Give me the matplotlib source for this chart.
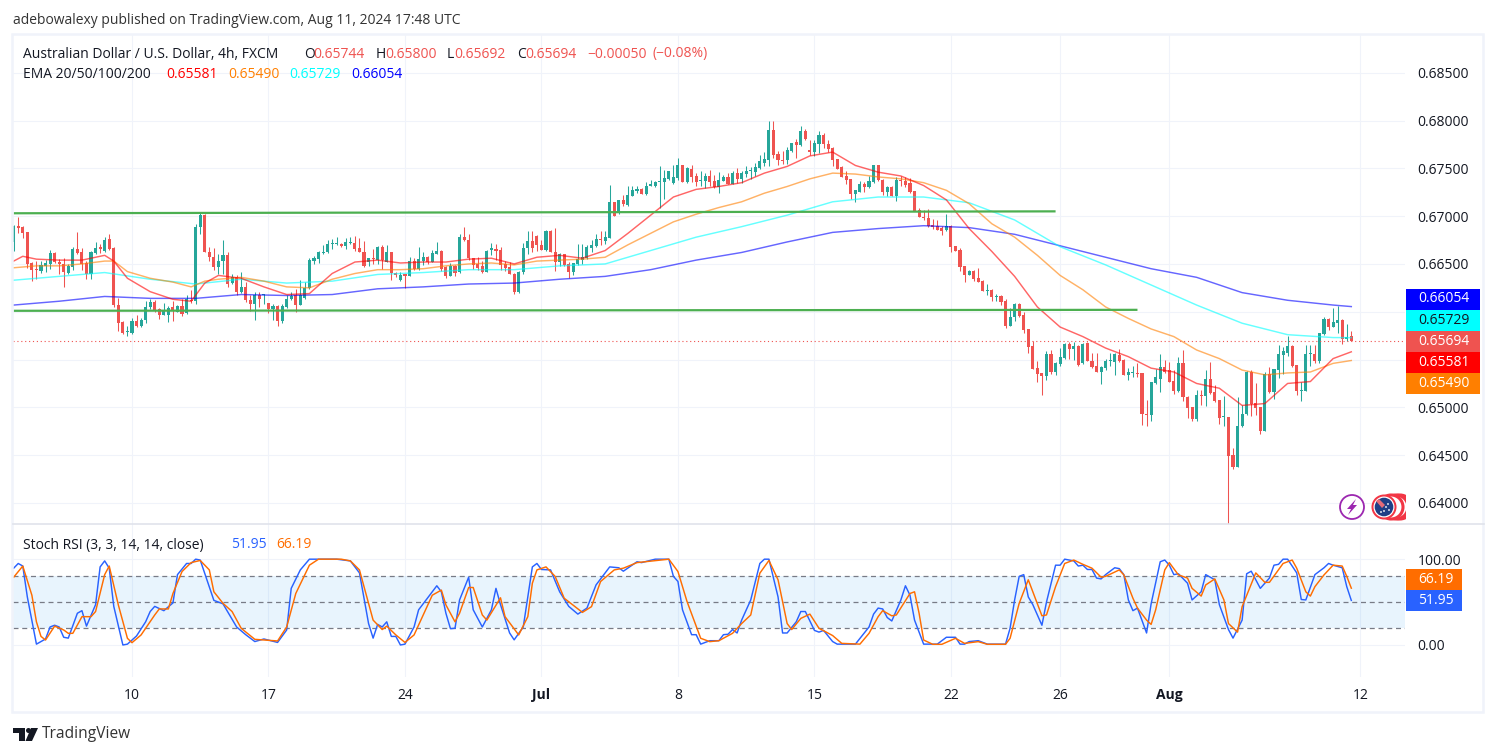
import numpy as np
import matplotlib
matplotlib.use("Agg")
import matplotlib.pyplot as plt
from matplotlib.patches import Rectangle, Circle, Polygon

plt.rcParams["font.family"] = ["Open Sans", "DejaVu Sans"]

# candles, price x 10000, one entry per 4h bar
opens = [6673,6689,6689,6683,6651,6645,6643,6648,6650,6661,
    6652,6650,6641,6647,6666,6662,6651,6639,6661,6667,
    6664,6676,6667,6607,6589,6579,6578,6590,6585,6591,
    6605,6610,6603,6597,6597,6605,6600,6606,6599,6612,
    6611,6689,6701,6663,6657,6647,6653,6659,6630,6636,
    6621,6626,6612,6608,6617,6617,6609,6603,6606,6590,
    6605,6613,6618,6607,6614,6625,6653,6655,6661,6662,
    6671,6671,6671,6669,6672,6672,6667,6663,6652,6656,
    6654,6668,6652,6662,6641,6633,6639,6637,6653,6645,
    6653,6657,6652,6660,6664,6647,6637,6648,6642,6678,
    6675,6656,6650,6648,6642,6665,6665,6665,6650,6647,
    6640,6621,6642,6667,6674,6679,6670,6665,6684,6663,
    6652,6660,6650,6642,6650,6654,6656,6667,6669,6676,
    6674,6677,6715,6703,6717,6712,6721,6726,6728,6723,
    6732,6732,6736,6736,6739,6735,6740,6753,6736,6749,
    6742,6737,6737,6742,6737,6730,6737,6741,6734,6745,
    6739,6744,6747,6746,6750,6756,6759,6790,6765,6759,
    6759,6768,6778,6774,6789,6769,6767,6775,6785,6775,
    6771,6760,6751,6742,6739,6723,6725,6734,6730,6736,
    6753,6738,6725,6730,6721,6738,6737,6735,6726,6706,
    6699,6698,6691,6690,6688,6686,6690,6669,6665,6648,
    6638,6643,6635,6632,6622,6623,6615,6616,6611,6585,
    6595,6608,6597,6582,6564,6541,6536,6533,6556,6537,
    6545,6552,6566,6561,6564,6546,6567,6549,6543,6537,
    6541,6548,6547,6555,6550,6534,6536,6536,6536,6493,
    6492,6525,6530,6542,6539,6528,6517,6546,6511,6500,
    6488,6513,6512,6530,6516,6508,6490,6490,6450,6438,
    6480,6493,6537,6505,6500,6475,6535,6516,6539,6555,
    6557,6564,6544,6517,6517,6556,6556,6548,6577,6592,
    6584,6588,6591,6571,6574.4]
highs = [6691,6699,6690,6683,6652,6653,6653,6654,6665,6663,
    6655,6656,6650,6668,6683,6667,6653,6664,6673,6671,
    6678,6681,6668,6614,6590,6585,6593,6597,6593,6611,
    6613,6612,6604,6609,6606,6611,6607,6613,6618,6623,
    6692,6703,6702,6668,6667,6660,6675,6662,6640,6638,
    6642,6631,6618,6621,6621,6619,6609,6608,6607,6608,
    6617,6621,6624,6633,6631,6656,6658,6664,6670,6675,
    6676,6678,6672,6677,6678,6679,6677,6674,6656,6666,
    6669,6670,6670,6663,6642,6642,6640,6657,6656,6668,
    6662,6658,6665,6673,6665,6648,6651,6649,6681,6689,
    6681,6656,6657,6653,6665,6672,6671,6668,6653,6652,
    6641,6643,6672,6684,6684,6680,6675,6686,6685,6688,
    6661,6660,6652,6651,6671,6671,6670,6675,6681,6684,
    6684,6733,6715,6717,6722,6732,6731,6732,6729,6736,
    6738,6737,6752,6748,6747,6753,6761,6753,6751,6753,
    6745,6747,6745,6748,6743,6746,6743,6745,6747,6750,
    6747,6752,6751,6756,6764,6767,6799,6799,6768,6768,
    6772,6777,6781,6794,6791,6780,6780,6789,6787,6780,
    6772,6760,6752,6747,6739,6727,6737,6736,6742,6754,
    6754,6739,6731,6731,6741,6742,6741,6740,6726,6709,
    6706,6707,6697,6696,6690,6702,6691,6669,6667,6648,
    6644,6644,6646,6633,6629,6624,6619,6618,6613,6604,
    6609,6609,6600,6582,6569,6549,6536,6559,6560,6547,
    6562,6567,6568,6568,6565,6567,6568,6557,6557,6543,
    6551,6557,6557,6561,6551,6541,6543,6546,6536,6508,
    6527,6540,6556,6550,6547,6539,6553,6560,6512,6500,
    6518,6518,6539,6547,6523,6508,6512,6490,6458,6511,
    6502,6538,6539,6525,6500,6537,6542,6540,6565,6563,
    6575,6565,6544,6526,6565,6565,6565,6578,6594,6593,
    6604,6606,6592,6587,6580]
lows = [6664,6682,6677,6646,6632,6634,6641,6642,6645,6651,
    6640,6626,6640,6644,6660,6644,6634,6634,6660,6661,
    6663,6665,6605,6580,6577,6575,6577,6584,6584,6588,
    6603,6600,6592,6597,6589,6590,6600,6596,6598,6609,
    6608,6681,6662,6653,6644,6640,6639,6626,6629,6617,
    6620,6610,6601,6591,6605,6608,6599,6591,6585,6588,
    6604,6612,6600,6607,6613,6624,6650,6651,6660,6661,
    6666,6670,6668,6666,6671,6664,6662,6647,6648,6650,
    6650,6645,6652,6633,6636,6632,6625,6637,6644,6644,
    6649,6650,6652,6660,6643,6635,6637,6637,6641,6674,
    6654,6645,6644,6641,6642,6659,6654,6644,6643,6639,
    6619,6620,6639,6660,6663,6664,6665,6664,6663,6643,
    6648,6648,6635,6638,6649,6650,6655,6663,6668,6670,
    6671,6677,6700,6702,6711,6711,6721,6724,6723,6722,
    6731,6730,6708,6718,6738,6734,6738,6736,6735,6736,
    6731,6731,6729,6732,6729,6724,6737,6734,6734,6735,
    6735,6741,6739,6742,6749,6752,6752,6761,6754,6755,
    6755,6767,6761,6773,6780,6764,6763,6766,6771,6767,
    6752,6749,6741,6734,6718,6715,6725,6725,6729,6735,
    6737,6722,6721,6721,6716,6732,6730,6724,6705,6699,
    6696,6689,6687,6685,6680,6684,6663,6664,6643,6631,
    6638,6632,6631,6622,6618,6611,6611,6607,6583,6585,
    6590,6595,6578,6557,6540,6526,6513,6529,6535,6534,
    6543,6551,6551,6550,6543,6545,6548,6541,6537,6524,
    6539,6543,6534,6547,6534,6529,6532,6532,6482,6480,
    6486,6524,6516,6536,6527,6514,6516,6507,6489,6486,
    6486,6502,6501,6514,6506,6483,6481,6378,6436,6438,
    6479,6492,6491,6492,6472,6475,6515,6509,6531,6535,
    6554,6542,6513,6507,6517,6543,6546,6546,6576,6581,
    6584,6578,6566,6569,6569.2]
closes = [6690,6688,6682,6650,6644,6644,6649,6651,6661,6652,
    6650,6642,6648,6666,6661,6650,6639,6662,6667,6666,
    6675,6666,6607,6588,6578,6580,6590,6585,6591,6605,
    6610,6601,6597,6601,6604,6602,6606,6598,6613,6611,
    6689,6701,6663,6657,6647,6653,6659,6629,6636,6621,
    6626,6612,6608,6617,6613,6617,6603,6606,6590,6606,
    6613,6616,6607,6617,6625,6654,6656,6662,6662,6671,
    6671,6672,6669,6673,6673,6666,6663,6648,6656,6655,
    6668,6654,6662,6641,6638,6638,6637,6653,6645,6655,
    6657,6652,6661,6664,6645,6637,6648,6641,6678,6675,
    6656,6649,6646,6642,6664,6665,6664,6649,6646,6639,
    6621,6642,6667,6674,6667,6670,6665,6684,6663,6652,
    6660,6649,6642,6651,6655,6657,6668,6670,6676,6675,
    6678,6715,6700,6717,6713,6722,6727,6728,6723,6732,
    6733,6736,6737,6740,6747,6741,6753,6736,6750,6741,
    6736,6737,6742,6736,6730,6738,6741,6734,6745,6739,
    6745,6747,6747,6751,6758,6760,6790,6764,6759,6758,
    6769,6777,6774,6789,6781,6767,6776,6785,6775,6770,
    6759,6749,6741,6738,6723,6727,6734,6730,6737,6753,
    6738,6725,6730,6721,6738,6737,6733,6725,6705,6699,
    6698,6690,6689,6686,6684,6690,6668,6664,6647,6638,
    6643,6634,6631,6622,6622,6615,6615,6610,6585,6595,
    6608,6596,6581,6563,6540,6535,6533,6556,6537,6546,
    6553,6566,6561,6564,6544,6566,6549,6542,6537,6542,
    6548,6548,6556,6549,6534,6537,6537,6535,6493,6492,
    6526,6532,6542,6537,6527,6517,6546,6511,6499,6488,
    6513,6512,6530,6515,6507,6489,6490,6449,6438,6480,
    6493,6537,6504,6499,6475,6535,6516,6540,6556,6559,
    6564,6543,6517,6518,6556,6556,6548,6578,6592,6584,
    6589,6591,6571,6574,6569.4]

# moving averages at these bars
ema200_bars = [0,10,20,30,40,50,60,70,80,90,100,110,120,130,140,150,160,170,180,190,
    200,210,220,230,240,250,260,270,280,290,294]
ema200 = [6607,6611,6616,6614,6614,6618,6617,6618,6624,6626,6629,6630,6634,6637,6644,6654,
    6662,6673,6683,6687,6690,6688,6681,6669,6657,6645,6636,6620,6612,6607,6605.4]
ema100_bars = ema200_bars
ema100 = [6633,6637,6641,6634,6629,6634,6630,6632,6639,6641,6644,6644,6648,6650,6664,6678,
    6689,6701,6715,6720,6720,6714,6696,6668,6649,6628,6607,6588,6576,6573,6572.9]
ema50_bars = [0,5,10,15,20,22,25,30,35,39,42,45,50,55,60,65,70,75,80,85,90,95,100,105,110,115,
    120,125,130,135,140,145,150,155,160,165,170,175,180,185,190,195,200,205,210,215,220,225,
    230,235,240,245,250,255,260,265,270,275,280,285,290,294]
ema50 = [6646,6648,6648,6650,6653,6653,6642,6635,6631,6626,6632,6634,6636,6632,6626,6625,
    6634,6640,6644,6644,6645,6648,6650,6651,6649,6653,6654,6655,6657,6670,6682,6694,6702,
    6709,6715,6724,6731,6739,6745,6744,6741,6739,6735,6727,6713,6692,6678,6659,6638,6623,
    6605,6593,6582,6574,6560,6551,6539,6534,6536,6537,6546,6549]
ema20_bars = [0,2,5,10,15,20,22,25,30,35,39,42,45,50,55,60,65,70,75,80,85,90,95,100,105,110,115,
    120,125,130,135,140,145,150,155,160,165,170,175,180,185,190,195,200,205,210,215,220,225,
    230,235,240,245,250,255,260,265,270,275,280,285,290,294]
ema20 = [6653,6658,6655,6654,6654,6659,6653,6635,6621,6613,6611,6630,6638,6635,6626,6618,
    6619,6640,6652,6654,6651,6652,6652,6655,6656,6650,6657,6659,6656,6664,6682,6701,6720,
    6728,6731,6735,6745,6752,6763,6767,6753,6746,6742,6732,6717,6687,6663,6637,6605,6584,
    6574,6562,6553,6541,6537,6525,6520,6502,6504,6525,6527,6551,6558.1]

trend_top = [6703, 6705]
trend_top_bars = [0, 229]
trend_low = [6601, 6602]
trend_low_bars = [0, 247]
last_price = 0.65694

# stoch rsi
k_bars = [0,1,2,3,5,7,8,9,10,11,12,14,15,16,18,19,20,21,22,24,25,27,29,30,31,33,35,36,38,39,40,41,
    44,46,49,51,53,55,58,60,61,63,65,71,74,76,78,79,80,81,82,83,84,85,86,88,89,93,94,95,96,97,98,
    100,101,103,105,106,107,109,110,112,114,115,116,118,120,122,124,126,128,131,133,134,137,138,
    141,144,145,146,147,149,150,151,153,155,156,157,158,159,160,162,
    164,165,166,168,169,170,172,173,174,176,177,178,180,181,185,188,189,190,191,192,193,195,196,
    197,198,200,203,205,207,208,209,210,212,214,218,219,220,221,222,223,224,226,227,229,230,231,
    233,234,235,236,237,238,239,240,242,243,244,245,246,247,249,250,252,253,254,255,256,258,259,
    261,262,264,265,267,268,270,271,272,274,276,277,278,279,280,282,283,284,286,288,289,290,292,293,294]
k_vals = [89.5,95,92,56,1,7,21,23,21,9,8,37,40,22,47,91,98,89.5,45,0,1,10.5,27,39,45,40,49,82,95,95,100,99,
    52,48,21,12,4,7,3,17.5,66,87.5,100,100,98,84,25,8,24,21,27,10,10,0,1,21,41,69,62,37,19,19.5,52.5,
    79,41,21,41,66,47,14,6,21,91,95,88,87.5,62,45,36,43,70,91,90,86,97,96,
    100,100,80,74,41,12,12,1,5,5,12,12.5,18,14,29,52.5,
    95,100,100,56,14,14,27,39,39,17,15,17,4,1,1,21,36,43,42,32,28,52.5,69,58,29,1,1,9,9,1,1,4,5,1,1,
    19.5,52.5,80,82,56,47,23,50,93,93,100,98,92,93,88,88,78,77,82,90,89,82,52.5,40,43,14,48,97,99,93,
    82,83,72,52.5,62,82,76,47,18,8,29,83,86,66,78,93,94,100,100,84,53,52.5,82,90,95,93,90,68,51.95]
d_bars = [0,2,4,5,6,7,9,11,12,13,15,17,18,20,21,23,25,26,28,31,32,34,35,37,39,41,43,44,46,48,50,53,58,
    60,62,65,67,72,74,76,79,81,82,84,86,88,90,92,94,95,97,98,100,101,103,104,107,108,111,113,114,115,
    117,119,121,125,127,129,132,134,137,144,146,148,151,153,155,158,160,162,
    164,166,168,170,171,173,175,177,180,182,186,188,190,191,193,194,197,198,199,200,202,204,207,209,
    212,214,218,219,221,223,224,226,227,229,231,233,235,237,239,240,243,244,246,247,249,250,251,253,
    254,256,258,259,261,262,264,266,267,269,270,273,275,276,279,281,282,284,285,286,288,290,292,293,294]
d_vals = [79,92,58,27,10,5.8,22,17.5,13.6,13.6,33,33,39,82,92,46.7,7.8,2.7,11.7,35,42,42,60,85.6,96,98.5,
    87.5,62,48.6,39,19.5,6.6,4.7,21,60,93,100,100,98,87.5,29,18,22,11.7,3,11.7,35,58,64,46.7,27,37,67,67,
    35,29,55,33,11.7,33,72,87.5,91,80,54.5,38,44.7,74,87.5,89.5,96,100,85.6,50.6,7.8,3.9,5,13.6,25,35,
    83.7,98.5,76,25,18,31,36,19.5,11,1.9,1,13.6,33,40,34,35,60,62,37,5.8,0.8,0.8,7.8,1.9,3.9,0.8,0.8,
    7.8,48.6,76,62,34,35,68,95,99,94,89.5,79,80,87.5,81.7,54.5,43,29,24,41,87.5,96,81.7,78,66,57,70,
    77,52.5,25,15,44.7,84,73,73,95,99,89.5,62,57,68,81.7,93,92,80,66.19]

date_ticks = [26, 56, 86, 116, 146, 176, 206, 230, 254, 296]
date_labels = ["10", "17", "24", "Jul", "8", "15", "22", "26", "Aug", "12"]
price_ticks = [0.685, 0.68, 0.675, 0.67, 0.665, 0.66, 0.655, 0.65, 0.645, 0.64]
price_labels = ["0.68500", "0.68000", "0.67500", "0.67000", "0.66500", "", "", "0.65000", "0.64500", "0.64000"]

UP = "#26a69a"
DOWN = "#ef5350"
GRID = "#f0f3fa"
TXT = "#131722"
W, H = 1496, 756
FS = 10

def pane(fig, left, top, right, bottom):
    a = fig.add_axes([left / W, 1 - bottom / H, (right - left) / W, (bottom - top) / H])
    for s in a.spines.values():
        s.set_visible(False)
    a.set_xlim(-0.15, 305.8)
    a.set_xticks(date_ticks)
    a.grid(True, color=GRID, lw=0.8)
    a.set_axisbelow(True)
    a.tick_params(length=0, labelcolor=TXT, labelsize=FS)
    return a

fig = plt.figure(figsize=(W / 100, H / 100), dpi=100, facecolor="white")

# price pane
ax = pane(fig, 13, 34, 1405, 524)
ax.set_ylim(0.6378, 0.68905)
ax.set_yticks(price_ticks)
ax.set_yticklabels(price_labels)
ax.yaxis.tick_right()
ax.tick_params(axis="y", pad=9)
ax.tick_params(axis="x", labelbottom=False)

bars = np.arange(len(closes))
o = np.array(opens) / 1e4
h = np.array(highs) / 1e4
l = np.array(lows) / 1e4
c = np.array(closes) / 1e4
colors = np.where(c >= o, UP, DOWN)
ax.vlines(bars, l, h, colors=colors, lw=0.75, zorder=2)
ax.bar(bars, np.maximum(np.abs(c - o), 0.00012), bottom=np.minimum(o, c), width=0.68,
       color=colors, linewidth=0, zorder=3)

for xs, ys, col in [(ema200_bars, ema200, "#0000ff"), (ema100_bars, ema100, "#00ffff"),
                    (ema50_bars, ema50, "#ff7f00"), (ema20_bars, ema20, "#ff0000")]:
    ax.plot(xs, np.array(ys) / 1e4, color=col, alpha=0.6, lw=1.05, zorder=4)

ax.plot(trend_top_bars, np.array(trend_top) / 1e4, color="#4caf50", lw=1.6, zorder=5, solid_capstyle="butt")
ax.plot(trend_low_bars, np.array(trend_low) / 1e4, color="#4caf50", lw=1.6, zorder=5, solid_capstyle="butt")
ax.axhline(last_price, color=DOWN, lw=0.8, ls=(0, (1, 2.5)), zorder=5)

# stoch rsi pane
ax2 = pane(fig, 13, 524, 1405, 677)
ax2.set_ylim(-37.3, 141)
ax2.set_yticks([0, 100])
ax2.set_yticklabels(["0.00", "100.00"])
ax2.yaxis.tick_right()
ax2.tick_params(axis="y", pad=9)
ax2.tick_params(axis="x", pad=8)
ax2.set_xticklabels(date_labels)
for t in ax2.get_xticklabels():
    if t.get_text() in ("Jul", "Aug"):
        t.set_fontweight("bold")
ax2.axhspan(20, 80, color="#2196f3", alpha=0.1, lw=0, zorder=1)
for lev in [80, 50, 20]:
    ax2.axhline(lev, color="#787b86", lw=0.9, ls=(0, (4, 3)), zorder=2)
ax2.plot(k_bars, k_vals, color="#2962ff", lw=1.05, zorder=3)
ax2.plot(d_bars, d_vals, color="#ff6d00", lw=1.05, zorder=4)

# everything outside the panes in pixel coords
ov = fig.add_axes([0, 0, 1, 1], zorder=10)
ov.set_xlim(0, W)
ov.set_ylim(H, 0)
ov.axis("off")
ov.patch.set_alpha(0)

ov.add_patch(Rectangle((12.5, 34), 1471, 678, fill=False, ec=GRID, lw=1.8))
ov.plot([13, 1484], [524, 524], color="#e0e3eb", lw=1.2)

def label(x, y, s, col=TXT, size=FS, **kw):
    ov.text(x, y, s, color=col, fontsize=size, va="center", ha=kw.pop("ha", "left"), **kw)

label(13, 20, "adebowalexy published on TradingView.com, Aug 11, 2024 17:48 UTC", "#333333")
label(23, 54, "Australian Dollar / U.S. Dollar, 4h, FXCM")
for x, s in [(304, "O"), (375.5, "H"), (447, "L"), (517, "C")]:
    label(x, 54, s)
for x, s in [(313, "0.65744"), (385, "0.65800"), (454.5, "0.65692"), (525, "0.65694"),
             (587, "\u22120.00050"), (653, "(\u22120.08%)")]:
    label(x, 54, s, DOWN)
label(23, 75, "EMA 20/50/100/200")
for x, s, col in [(166.5, "0.65581", "#ff0000"), (228, "0.65490", "#ff7f00"),
                  (289.5, "0.65729", "#00ffff"), (351.7, "0.66054", "#0000ff")]:
    label(x, 75, s, col)
label(23, 545, "Stoch RSI (3, 3, 14, 14, close)")
label(231, 545, "51.95", "#2962ff")
label(276.5, 545, "66.19", "#ff6d00")

for y0, y1, s, bg, fg in [(288.5, 309.5, "0.66054", "#0000ff", "white"), (309.5, 331, "0.65729", "#00ffff", TXT),
                          (331, 352, "0.65694", DOWN, "white"), (352, 373, "0.65581", "#ff0000", "white"),
                          (373, 394, "0.65490", "#ff7f00", "white")]:
    ov.add_patch(Rectangle((1406, y0), 74, y1 - y0, fc=bg, ec="none"))
    label(1418, (y0 + y1) / 2, s, fg)
for y0, y1, s, bg in [(569, 590, "66.19", "#ff6d00"), (590, 611, "51.95", "#2962ff")]:
    ov.add_patch(Rectangle((1406, y0), 56, y1 - y0, fc=bg, ec="none"))
    label(1418, (y0 + y1) / 2, s, "white")

# lightning badge and currency badges
ov.add_patch(Circle((1352, 507), 12, fc="white", ec="#9c27b0", lw=1.3))
ov.add_patch(Polygon([(1356, 499), (1347, 509), (1351, 509), (1348, 515), (1357, 505), (1353, 505)],
                     fc="#9c27b0", ec="none"))
for cx in [1400, 1396, 1391]:
    ov.add_patch(Circle((cx, 507), 12, fc="white", ec="#f23645", lw=2.2))
ov.add_patch(Rectangle((1406, 490), 10, 36, fc="white", ec="none"))
ov.add_patch(Circle((1384, 507), 12.5, fc="#f23645", ec="none"))
ov.add_patch(Circle((1384, 507), 10.5, fc="white", ec="none"))
ov.add_patch(Circle((1384, 507), 9.3, fc="#1f3f86", ec="none"))
ov.add_patch(Polygon([(1376, 501), (1379, 499), (1385, 505), (1382, 508)], fc="#e56b78", ec="none"))
for dx, dy in [(4, -3), (5, 3), (0, 4), (-3, 5), (2, 0)]:
    ov.add_patch(Circle((1384 + dx, 507 + dy), 0.9, fc="white", ec="none"))

# TradingView logo
ov.add_patch(Polygon([(13, 728), (25, 728), (25, 741), (19, 741), (19, 733), (13, 733)], fc=TXT, ec="none"))
ov.add_patch(Circle((28.5, 730.5), 2.5, fc=TXT, ec="none"))
ov.add_patch(Polygon([(31, 728), (38, 728), (32, 741), (25.5, 741)], fc=TXT, ec="none"))
label(42, 734, "TradingView", "#333333", 11.2)

fig.savefig("out.png", dpi=100)
